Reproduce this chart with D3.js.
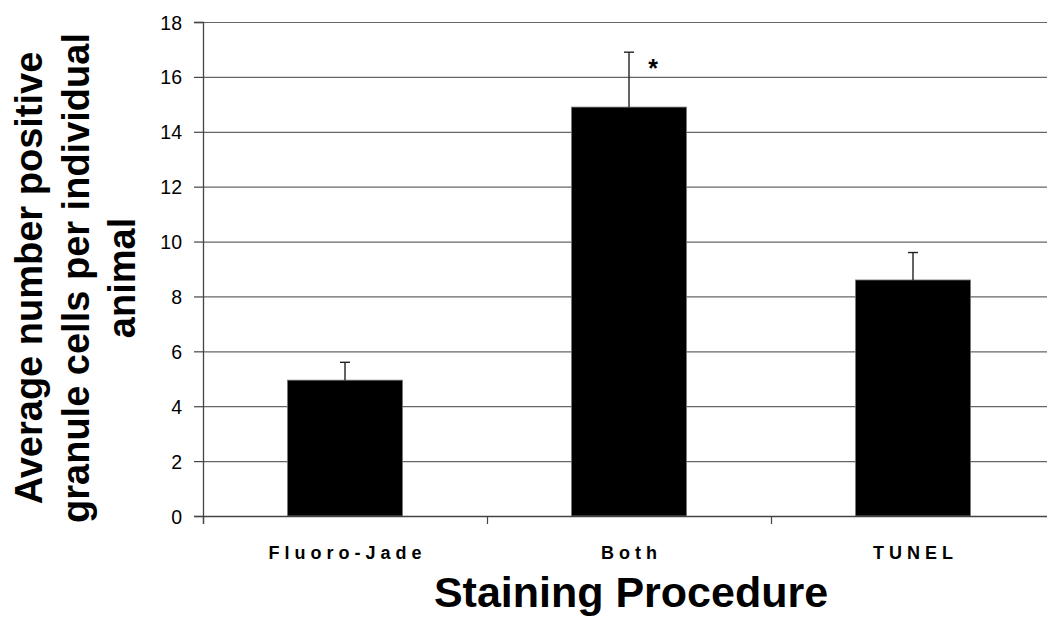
<!DOCTYPE html>
<html>
<head>
<meta charset="utf-8">
<script src="https://cdn.jsdelivr.net/npm/d3@7"></script>
<style>
  body { margin: 0; background: #fff; }
  svg { display: block; font-family: "Liberation Sans", Arial, sans-serif; }
</style>
</head>
<body>
<div id="chart"></div>
<script>
// data
const categories = ['Fluoro-Jade', 'Both', 'TUNEL'];
const means = [4.95, 14.9, 8.6];
const errTops = [5.6, 16.9, 9.6];
const marks = ['', '*', ''];
const yTicks = [0, 2, 4, 6, 8, 10, 12, 14, 16, 18];
const yTitleLines = ['Average number positive', 'granule cells per individual', 'animal'];
const xTitle = 'Staining Procedure';

const data = categories.map((c, i) => ({ cat: c, mean: means[i], top: errTops[i], mark: marks[i] }));

const width = 1047, height = 619;
const margin = { top: 22, left: 203, bottom: 103 };
const plotW = 852; // plot runs past the right edge of the picture
const plotH = height - margin.top - margin.bottom;

const svg = d3.select('#chart').append('svg')
    .attr('width', width)
    .attr('height', height);

const g = svg.append('g')
    .attr('transform', `translate(${margin.left},${margin.top})`);

const x = d3.scaleBand()
    .domain(categories)
    .range([0, plotW])
    .padding(0);

const xEdges = d3.scaleLinear()
    .domain([0, categories.length])
    .range([0, plotW]);

const y = d3.scaleLinear()
    .domain([0, 18])
    .range([plotH, 0]);

// gridlines
g.append('g')
    .selectAll('line')
    .data(yTicks.filter(d => d > 0))
    .join('line')
    .attr('x1', 0)
    .attr('x2', plotW)
    .attr('y1', d => y(d) + 0.5)
    .attr('y2', d => y(d) + 0.5)
    .attr('stroke', '#666')
    .attr('stroke-width', 1.2);

// y axis
const yAxis = g.append('g')
    .attr('class', 'y-axis')
    .call(d3.axisLeft(y).tickValues(yTicks).tickSize(9).tickPadding(12));
yAxis.select('.domain').attr('stroke', '#444').attr('stroke-width', 1.3);
yAxis.selectAll('.tick line').attr('stroke', '#444').attr('stroke-width', 1.2);
yAxis.selectAll('.tick text')
    .attr('font-size', 19.5)
    .attr('fill', '#000')
    .attr('font-family', '"Liberation Sans", Arial, sans-serif')
    .attr('dy', '0.36em');

// bars
const barW = x.bandwidth() * 0.405;
g.selectAll('.bar')
    .data(data)
    .join('rect')
    .attr('class', 'bar')
    .attr('x', d => x(d.cat) + (x.bandwidth() - barW) / 2)
    .attr('y', d => y(d.mean))
    .attr('width', barW)
    .attr('height', d => y(0) - y(d.mean))
    .attr('fill', '#000')
    .attr('stroke', '#777')
    .attr('stroke-width', 0.8);

// error bars (upper only)
const cx = d => x(d.cat) + x.bandwidth() / 2;
g.selectAll('.err')
    .data(data)
    .join('line')
    .attr('class', 'err')
    .attr('x1', cx).attr('x2', cx)
    .attr('y1', d => y(d.mean))
    .attr('y2', d => y(d.top))
    .attr('stroke', '#222')
    .attr('stroke-width', 1.4);
g.selectAll('.cap')
    .data(data)
    .join('line')
    .attr('class', 'cap')
    .attr('x1', d => cx(d) - 5).attr('x2', d => cx(d) + 5)
    .attr('y1', d => y(d.top)).attr('y2', d => y(d.top))
    .attr('stroke', '#222')
    .attr('stroke-width', 1.4);

// significance mark
g.selectAll('.mark')
    .data(data.filter(d => d.mark))
    .join('text')
    .attr('class', 'mark')
    .attr('x', d => cx(d) + 24)
    .attr('y', d => y(d.top) + 25)
    .attr('text-anchor', 'middle')
    .attr('font-size', 25)
    .attr('font-weight', 'bold')
    .text(d => d.mark);

// x axis
const xAxis = g.append('g')
    .attr('class', 'x-axis')
    .attr('transform', `translate(0,${plotH})`)
    .call(d3.axisBottom(xEdges).tickValues(d3.range(categories.length + 1)).tickSize(8).tickFormat(''));
xAxis.select('.domain').attr('stroke', '#444').attr('stroke-width', 1.3);
xAxis.selectAll('.tick line').attr('stroke', '#444').attr('stroke-width', 1.2);

g.append('g')
    .selectAll('text')
    .data(categories)
    .join('text')
    .attr('x', d => x(d) + x.bandwidth() / 2 + 2.5)
    .attr('y', plotH + 43)
    .attr('text-anchor', 'middle')
    .attr('font-size', 18)
    .attr('font-weight', 'bold')
    .attr('letter-spacing', '5px')
    .text(d => d);

// axis titles
svg.append('text')
    .attr('x', 631)
    .attr('y', 607)
    .attr('text-anchor', 'middle')
    .attr('font-size', 43)
    .attr('font-weight', 'bold')
    .text(xTitle);

const yTitle = svg.append('text')
    .attr('transform', 'translate(0,278) rotate(-90)')
    .attr('text-anchor', 'middle')
    .attr('font-size', 38)
    .attr('font-weight', 'bold');
yTitle.selectAll('tspan')
    .data(yTitleLines)
    .join('tspan')
    .attr('x', 0)
    .attr('y', (d, i) => 42 + i * 46.5)
    .text(d => d);
</script>
</body>
</html>
